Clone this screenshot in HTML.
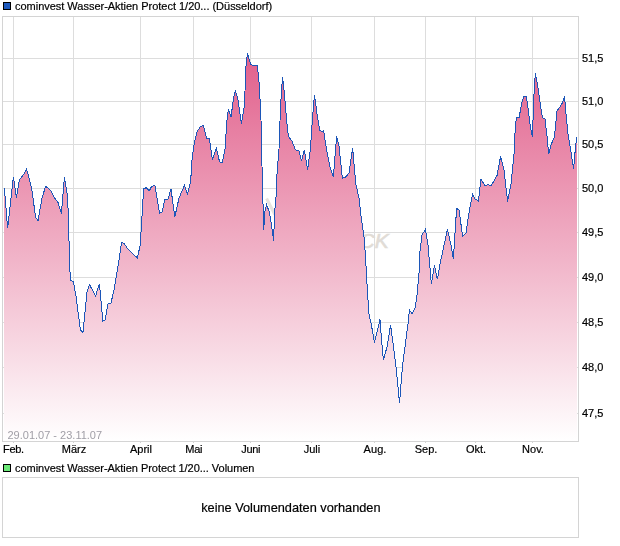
<!DOCTYPE html><html><head><meta charset="utf-8"><style>
html,body{margin:0;padding:0;background:#fff}
body{width:620px;height:546px;position:relative;overflow:hidden;font-family:"Liberation Sans",sans-serif;font-size:11px;color:#000}
.t{position:absolute;white-space:nowrap;line-height:12px;-webkit-text-stroke:0.2px currentColor}
.x{transform:translateX(-50%)}
</style></head><body>
<svg width="620" height="546" viewBox="0 0 620 546" style="position:absolute;left:0;top:0">
<defs><linearGradient id="g" x1="0" y1="16" x2="0" y2="441" gradientUnits="userSpaceOnUse"><stop offset="0" stop-color="#de5080"/><stop offset="1" stop-color="#ffffff"/></linearGradient></defs>
<rect x="0" y="0" width="620" height="546" fill="#fff"/>
<g stroke="#dddddd" stroke-width="1" shape-rendering="crispEdges">
<line x1="13.5" y1="16" x2="13.5" y2="441"/>
<line x1="73.5" y1="16" x2="73.5" y2="441"/>
<line x1="140.5" y1="16" x2="140.5" y2="441"/>
<line x1="193.5" y1="16" x2="193.5" y2="441"/>
<line x1="250.5" y1="16" x2="250.5" y2="441"/>
<line x1="311.5" y1="16" x2="311.5" y2="441"/>
<line x1="374.5" y1="16" x2="374.5" y2="441"/>
<line x1="425.5" y1="16" x2="425.5" y2="441"/>
<line x1="475.5" y1="16" x2="475.5" y2="441"/>
<line x1="532.5" y1="16" x2="532.5" y2="441"/>
<line x1="3" y1="58.5" x2="578" y2="58.5"/>
<line x1="3" y1="101.5" x2="578" y2="101.5"/>
<line x1="3" y1="144.5" x2="578" y2="144.5"/>
<line x1="3" y1="188.5" x2="578" y2="188.5"/>
<line x1="3" y1="232.5" x2="578" y2="232.5"/>
<line x1="3" y1="277.5" x2="578" y2="277.5"/>
<line x1="3" y1="322.5" x2="578" y2="322.5"/>
<line x1="3" y1="367.5" x2="578" y2="367.5"/>
<line x1="3" y1="413.5" x2="578" y2="413.5"/>
</g>
<line x1="266.6" y1="198.5" x2="274.8" y2="214.5" stroke="#e7e3de" stroke-width="3"/><text x="359.5" y="247.7" font-family="Liberation Sans, sans-serif" font-size="21" font-style="italic" fill="#e1dcd6" stroke="#e1dcd6" stroke-width="0.6">CK</text>
<polygon points="4,441 4,188.0 4.4,188.0 7.6,228.4 13.4,177.0 16.4,197.6 19.4,180.0 24.0,174.0 26.6,169.0 31.6,188.0 35.6,217.0 38.0,221.0 42.0,198.0 45.6,186.4 49.0,189.0 51.6,192.0 54.0,197.0 58.0,202.4 61.4,213.6 64.4,177.0 67.0,193.0 68.4,214.0 69.6,266.0 70.6,280.0 73.4,282.0 76.0,296.0 80.4,330.0 83.0,332.4 87.0,292.0 89.4,284.4 95.6,296.0 99.4,283.6 102.8,321.0 105.0,320.0 108.0,304.0 111.0,303.0 114.0,290.0 119.0,260.0 121.6,242.4 124.4,243.6 127.0,248.0 132.0,253.0 137.4,258.0 140.0,246.0 141.5,225.0 143.6,189.0 146.4,187.6 149.2,191.0 151.6,186.4 155.0,185.6 157.0,198.0 159.6,213.0 162.0,212.0 165.0,199.0 168.0,199.0 171.0,189.0 174.8,217.0 179.0,198.0 184.4,185.6 187.6,194.0 190.6,182.0 192.0,160.0 194.4,142.0 197.0,132.0 200.0,127.0 203.4,125.6 206.4,138.0 209.4,138.0 212.4,160.0 216.4,148.4 219.6,162.0 222.4,162.4 225.0,149.0 227.0,120.0 228.4,109.6 231.0,117.0 233.6,98.0 235.4,90.4 238.0,100.0 241.4,124.0 244.4,106.0 246.0,66.0 247.4,53.4 250.6,64.0 253.0,65.4 257.4,65.4 259.4,86.0 261.0,120.0 261.6,149.0 262.0,166.0 263.7,229.5 265.0,211.0 266.5,204.5 269.4,212.0 271.6,226.0 273.6,240.5 274.6,213.0 276.2,195.0 276.7,178.0 279.0,149.0 280.4,110.0 281.6,88.0 282.6,77.4 284.4,94.0 286.4,118.0 288.4,136.0 292.0,141.3 295.6,150.0 299.0,151.0 301.6,161.0 304.4,150.0 307.6,170.0 310.4,149.0 312.4,120.0 313.6,104.0 314.6,95.4 317.0,114.0 319.6,130.0 322.0,131.6 323.6,130.4 326.5,149.0 330.0,167.0 333.4,177.0 335.0,156.0 336.6,136.4 339.0,146.0 342.4,178.4 345.6,177.0 349.0,173.0 352.6,147.6 354.0,164.0 356.0,185.0 359.0,198.0 361.2,218.0 364.0,237.0 365.4,255.0 367.4,291.0 369.0,314.0 371.6,326.0 374.4,342.6 377.0,332.0 380.0,319.6 381.4,338.0 383.4,360.0 387.0,347.0 390.6,325.0 393.0,343.0 396.4,370.0 399.5,403.0 402.4,367.0 405.6,342.0 408.0,324.0 409.4,310.0 412.0,313.6 415.0,308.5 417.0,295.0 419.0,273.0 420.0,251.0 422.0,235.0 425.4,229.4 428.0,245.0 431.4,284.0 434.4,265.4 437.4,279.4 440.0,264.0 447.4,229.4 451.0,245.0 453.4,259.0 456.6,208.4 459.0,210.0 462.6,236.0 466.0,233.0 469.4,210.0 472.6,194.4 475.0,199.0 478.4,201.0 481.0,179.0 485.0,186.0 488.0,184.4 491.0,186.0 497.0,175.6 500.6,156.5 504.0,170.0 507.6,201.6 511.0,184.0 514.0,154.0 515.4,125.0 516.6,117.4 519.0,118.0 521.6,104.0 523.6,96.4 526.4,96.4 528.0,108.0 530.4,127.0 532.4,137.0 533.6,104.0 534.4,85.0 535.4,73.4 537.4,84.0 540.0,102.0 542.4,117.6 545.0,119.0 547.0,136.0 548.6,154.0 551.0,145.0 554.4,137.0 557.0,111.0 560.0,107.0 562.6,102.4 564.6,96.4 566.0,114.0 568.0,134.0 571.6,156.0 573.6,168.5 575.6,146.0 576.8,137.0 577,137.0 577,441" fill="url(#g)"/>
<polyline points="4.4,188.0 7.6,228.4 13.4,177.0 16.4,197.6 19.4,180.0 24.0,174.0 26.6,169.0 31.6,188.0 35.6,217.0 38.0,221.0 42.0,198.0 45.6,186.4 49.0,189.0 51.6,192.0 54.0,197.0 58.0,202.4 61.4,213.6 64.4,177.0 67.0,193.0 68.4,214.0 69.6,266.0 70.6,280.0 73.4,282.0 76.0,296.0 80.4,330.0 83.0,332.4 87.0,292.0 89.4,284.4 95.6,296.0 99.4,283.6 102.8,321.0 105.0,320.0 108.0,304.0 111.0,303.0 114.0,290.0 119.0,260.0 121.6,242.4 124.4,243.6 127.0,248.0 132.0,253.0 137.4,258.0 140.0,246.0 141.5,225.0 143.6,189.0 146.4,187.6 149.2,191.0 151.6,186.4 155.0,185.6 157.0,198.0 159.6,213.0 162.0,212.0 165.0,199.0 168.0,199.0 171.0,189.0 174.8,217.0 179.0,198.0 184.4,185.6 187.6,194.0 190.6,182.0 192.0,160.0 194.4,142.0 197.0,132.0 200.0,127.0 203.4,125.6 206.4,138.0 209.4,138.0 212.4,160.0 216.4,148.4 219.6,162.0 222.4,162.4 225.0,149.0 227.0,120.0 228.4,109.6 231.0,117.0 233.6,98.0 235.4,90.4 238.0,100.0 241.4,124.0 244.4,106.0 246.0,66.0 247.4,53.4 250.6,64.0 253.0,65.4 257.4,65.4 259.4,86.0 261.0,120.0 261.6,149.0 262.0,166.0 263.7,229.5 265.0,211.0 266.5,204.5 269.4,212.0 271.6,226.0 273.6,240.5 274.6,213.0 276.2,195.0 276.7,178.0 279.0,149.0 280.4,110.0 281.6,88.0 282.6,77.4 284.4,94.0 286.4,118.0 288.4,136.0 292.0,141.3 295.6,150.0 299.0,151.0 301.6,161.0 304.4,150.0 307.6,170.0 310.4,149.0 312.4,120.0 313.6,104.0 314.6,95.4 317.0,114.0 319.6,130.0 322.0,131.6 323.6,130.4 326.5,149.0 330.0,167.0 333.4,177.0 335.0,156.0 336.6,136.4 339.0,146.0 342.4,178.4 345.6,177.0 349.0,173.0 352.6,147.6 354.0,164.0 356.0,185.0 359.0,198.0 361.2,218.0 364.0,237.0 365.4,255.0 367.4,291.0 369.0,314.0 371.6,326.0 374.4,342.6 377.0,332.0 380.0,319.6 381.4,338.0 383.4,360.0 387.0,347.0 390.6,325.0 393.0,343.0 396.4,370.0 399.5,403.0 402.4,367.0 405.6,342.0 408.0,324.0 409.4,310.0 412.0,313.6 415.0,308.5 417.0,295.0 419.0,273.0 420.0,251.0 422.0,235.0 425.4,229.4 428.0,245.0 431.4,284.0 434.4,265.4 437.4,279.4 440.0,264.0 447.4,229.4 451.0,245.0 453.4,259.0 456.6,208.4 459.0,210.0 462.6,236.0 466.0,233.0 469.4,210.0 472.6,194.4 475.0,199.0 478.4,201.0 481.0,179.0 485.0,186.0 488.0,184.4 491.0,186.0 497.0,175.6 500.6,156.5 504.0,170.0 507.6,201.6 511.0,184.0 514.0,154.0 515.4,125.0 516.6,117.4 519.0,118.0 521.6,104.0 523.6,96.4 526.4,96.4 528.0,108.0 530.4,127.0 532.4,137.0 533.6,104.0 534.4,85.0 535.4,73.4 537.4,84.0 540.0,102.0 542.4,117.6 545.0,119.0 547.0,136.0 548.6,154.0 551.0,145.0 554.4,137.0 557.0,111.0 560.0,107.0 562.6,102.4 564.6,96.4 566.0,114.0 568.0,134.0 571.6,156.0 573.6,168.5 575.6,146.0 576.8,137.0" fill="none" stroke="#1c56b8" stroke-width="1" shape-rendering="crispEdges"/>
<rect x="2.5" y="16.5" width="576" height="425" fill="none" stroke="#d4d4d4" stroke-width="1" shape-rendering="crispEdges"/>
<g stroke="#d4d4d4" stroke-width="1" shape-rendering="crispEdges">
<line x1="13.5" y1="441" x2="13.5" y2="443"/>
<line x1="73.5" y1="441" x2="73.5" y2="443"/>
<line x1="140.5" y1="441" x2="140.5" y2="443"/>
<line x1="193.5" y1="441" x2="193.5" y2="443"/>
<line x1="250.5" y1="441" x2="250.5" y2="443"/>
<line x1="311.5" y1="441" x2="311.5" y2="443"/>
<line x1="374.5" y1="441" x2="374.5" y2="443"/>
<line x1="425.5" y1="441" x2="425.5" y2="443"/>
<line x1="475.5" y1="441" x2="475.5" y2="443"/>
<line x1="532.5" y1="441" x2="532.5" y2="443"/>
</g>
<rect x="2.5" y="477.5" width="576" height="60" fill="#fff" stroke="#d4d4d4" stroke-width="1" shape-rendering="crispEdges"/>
<rect x="3.5" y="2.5" width="7" height="7" fill="#1e5abe" stroke="#000000" stroke-width="1" shape-rendering="crispEdges"/>
<rect x="3.5" y="464.5" width="7" height="7" fill="#6ce878" stroke="#000000" stroke-width="1" shape-rendering="crispEdges"/>
</svg>
<div style="position:absolute;left:0;top:0;width:620px;height:546px;will-change:transform">
<div class="t" style="left:15px;top:-0.5px;letter-spacing:-0.02px">cominvest Wasser-Aktien Protect 1/20... (Düsseldorf)</div>
<div class="t" style="left:15px;top:461.5px;letter-spacing:-0.035px">cominvest Wasser-Aktien Protect 1/20... Volumen</div>
<div class="t" style="left:7.5px;top:429px;color:#a09ea6;-webkit-text-stroke:0">29.01.07 - 23.11.07</div>
<div class="t" style="left:3px;top:443px;letter-spacing:-0.3px">Feb.</div>
<div class="t x" style="left:74.0px;top:443px;letter-spacing:0px">März</div>
<div class="t x" style="left:141.0px;top:443px;letter-spacing:0px">April</div>
<div class="t x" style="left:193.7px;top:443px;letter-spacing:-0.35px">Mai</div>
<div class="t x" style="left:250.7px;top:443px;letter-spacing:-0.35px">Juni</div>
<div class="t x" style="left:312.0px;top:443px;letter-spacing:0px">Juli</div>
<div class="t x" style="left:375.0px;top:443px;letter-spacing:0.1px">Aug.</div>
<div class="t x" style="left:426.0px;top:443px;letter-spacing:0px">Sep.</div>
<div class="t x" style="left:476.0px;top:443px;letter-spacing:0px">Okt.</div>
<div class="t x" style="left:533.0px;top:443px;letter-spacing:0px">Nov.</div>
<div class="t" style="left:582px;top:52.0px">51,5</div>
<div class="t" style="left:582px;top:95.0px">51,0</div>
<div class="t" style="left:582px;top:138.0px">50,5</div>
<div class="t" style="left:582px;top:182.0px">50,0</div>
<div class="t" style="left:582px;top:226.0px">49,5</div>
<div class="t" style="left:582px;top:271.0px">49,0</div>
<div class="t" style="left:582px;top:316.0px">48,5</div>
<div class="t" style="left:582px;top:361.0px">48,0</div>
<div class="t" style="left:582px;top:407.0px">47,5</div>
<div class="t" style="left:201.2px;top:499.5px;font-size:12.75px;line-height:15px">keine Volumendaten vorhanden</div>
</div>
</body></html>
